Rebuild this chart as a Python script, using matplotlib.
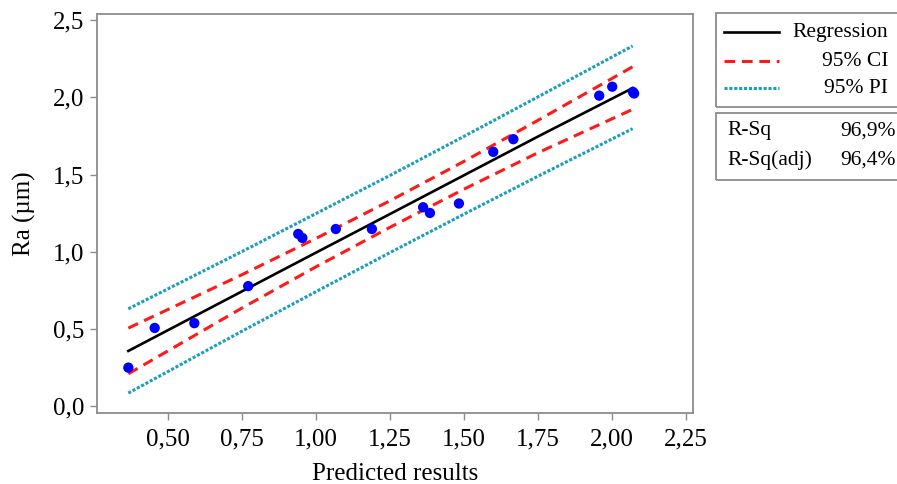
import matplotlib
matplotlib.use('Agg')
import matplotlib.pyplot as plt
from matplotlib.lines import Line2D
from matplotlib.patches import Rectangle

plt.rcParams['font.family'] = ['Liberation Serif', 'DejaVu Serif']
plt.rcParams['font.size'] = 15

# ===================== 数据 =====================
pred = [0.366, 0.455, 0.589, 0.771, 0.940, 0.954, 1.067, 1.189,
        1.362, 1.385, 1.483, 1.599, 1.667, 1.957, 2.001, 2.071, 2.075]
ra = [0.249, 0.506, 0.537, 0.777, 1.115, 1.089, 1.147, 1.147,
      1.288, 1.251, 1.312, 1.647, 1.729, 2.011, 2.069, 2.035, 2.025]

# 拟合线与置信/预测区间
fit_x = [0.366, 0.75, 1.00, 1.25, 1.50, 1.75, 2.07]
fit_y = [0.357, 0.743, 0.994, 1.244, 1.495, 1.746, 2.060]
ci_hi = [0.505, 0.851, 1.086, 1.330, 1.585, 1.851, 2.198]
ci_lo = [0.209, 0.635, 0.902, 1.158, 1.405, 1.641, 1.922]
pi_hi = [0.630, 1.001, 1.247, 1.494, 1.747, 2.003, 2.333]
pi_lo = [0.084, 0.485, 0.741, 0.994, 1.243, 1.489, 1.797]

xticks = [0.50, 0.75, 1.00, 1.25, 1.50, 1.75, 2.00, 2.25]
xtick_labels = ['0,50', '0,75', '1,00', '1,25', '1,50', '1,75', '2,00', '2,25']
yticks = [0.0, 0.5, 1.0, 1.5, 2.0, 2.5]
ytick_labels = ['0,0', '0,5', '1,0', '1,5', '2,0', '2,5']

legend_labels = ['Regression', '95% CI', '95% PI']
stat_names = ['R-Sq', 'R-Sq(adj)']
stat_values = ['96,9%', '96,4%']

RED = '#ff1a1a'
TEAL = '#1a9ec0'
GREY = '#8c8c8c'

# ===================== 绘图 =====================
fig = plt.figure(figsize=(8.97, 4.84), dpi=100)
ax = fig.add_axes([0.1081, 0.1467, 0.6645, 0.8244])

ax.plot(fit_x, pi_hi, color=TEAL, lw=2.2, ls=(0, (1, 0.6)))
ax.plot(fit_x, pi_lo, color=TEAL, lw=2.2, ls=(0, (1, 0.6)))
ax.plot(fit_x, ci_hi, color=RED, lw=2.2, ls=(0, (3.5, 2.2)))
ax.plot(fit_x, ci_lo, color=RED, lw=2.2, ls=(0, (3.5, 2.2)))
ax.plot(fit_x, fit_y, color='black', lw=1.9)
ax.scatter(pred, ra, s=55, color='#0000ff', zorder=5, edgecolors='none')

ax.set_xlim(0.26, 2.274)
ax.set_ylim(-0.045, 2.54)
ax.set_xticks(xticks)
ax.set_xticklabels(xtick_labels)
ax.set_yticks(yticks)
ax.set_yticklabels(ytick_labels)
ax.tick_params(direction='out', length=5, width=1, color=GREY, labelsize=18, pad=4)
ax.tick_params(axis='x', pad=6)
for s in ax.spines.values():
    s.set_color(GREY)
    s.set_linewidth(1.3)

ax.set_xlabel('Predicted results', fontsize=18, labelpad=9)
ax.set_ylabel('Ra (µm)', fontsize=18, labelpad=12)

# ===================== 图例框 =====================
W, H = 897.0, 484.0

def fx(px):
    return px / W

def fy(py):
    return 1 - py / H

fig.add_artist(Rectangle((fx(716), fy(107)), fx(200), (107 - 13) / H,
                         transform=fig.transFigure, fill=False, ec=GREY, lw=1.3))
fig.add_artist(Rectangle((fx(716), fy(180)), fx(200), (180 - 113) / H,
                         transform=fig.transFigure, fill=False, ec=GREY, lw=1.3))

styles = [dict(color='black', lw=1.9, ls='-'),
          dict(color=RED, lw=2.2, ls=(0, (3.5, 2.2))),
          dict(color=TEAL, lw=2.2, ls=(0, (1, 0.6)))]
rows = [32, 61, 88]
for lab, st, py in zip(legend_labels, styles, rows):
    fig.add_artist(Line2D([fx(724), fx(779)], [fy(py), fy(py)],
                          transform=fig.transFigure, **st))
    fig.text(fx(888), fy(py), lab, ha='right', va='center', fontsize=15.5)

for name, val, py in zip(stat_names, stat_values, [131, 160]):
    fig.text(fx(727), fy(py), name, ha='left', va='center', fontsize=15.5)
    fig.text(fx(896), fy(py), val, ha='right', va='center', fontsize=15.5)

fig.savefig('out.png', dpi=100)
